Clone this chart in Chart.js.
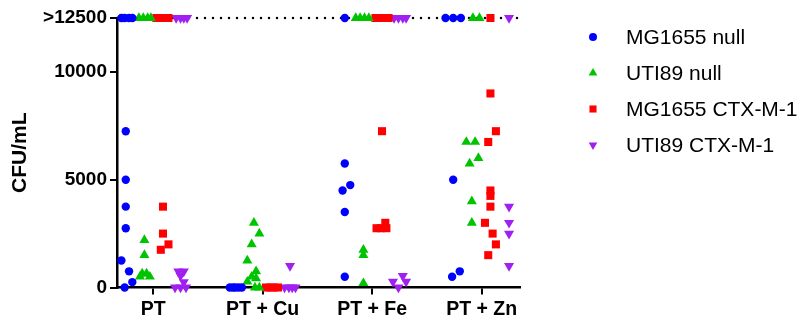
<!DOCTYPE html>
<html>
<head>
<meta charset="utf-8">
<script src="https://cdn.jsdelivr.net/npm/chart.js@4/dist/chart.umd.min.js"></script>
<style>
  body { margin: 0; background: #fff; }
  #wrap { width: 801px; height: 320px; }
</style>
</head>
<body>
<div id="wrap"><canvas id="myChart" width="801" height="320"></canvas></div>
<script>
const groups = ['PT', 'PT + Cu', 'PT + Fe', 'PT + Zn'];
const yTicks = [0, 5000, 10000, 12500];
const yTickLabels = ['0', '5000', '10000', '>12500'];
const limit = 12500; // values above detection are shown as >12500

// values per group, and the horizontal scatter of each dot inside its group
const mgNull = [
    [12500, 12500, 12500, 12500, 7250, 5000, 3750, 2750, 1250, 750, 250, 0],
    [0, 0, 0, 0, 0],
    [12500, 5750, 4750, 4500, 3500, 500],
    [12500, 12500, 12500, 5000, 750, 500]
];
const mgNullX = [
    [-0.29, -0.26, -0.22, -0.19, -0.25, -0.25, -0.25, -0.25, -0.29, -0.22, -0.19, -0.26],
    [-0.30, -0.27, -0.25, -0.22, -0.19],
    [-0.25, -0.25, -0.20, -0.27, -0.25, -0.25],
    [-0.33, -0.26, -0.19, -0.26, -0.20, -0.27]
];
const utiNull = [
    [12500, 12500, 12500, 12500, 2200, 1500, 650, 500, 650, 500],
    [3000, 2500, 2000, 1250, 750, 500, 430, 270, 0, 0],
    [12500, 12500, 12500, 12500, 1750, 1500, 200],
    [12500, 12500, 6750, 6750, 6000, 5750, 4000, 3000]
];
const utiNullX = [
    [-0.13, -0.09, -0.05, -0.02, -0.08, -0.08, -0.10, -0.12, -0.06, -0.03],
    [-0.08, -0.03, -0.10, -0.14, -0.06, -0.10, -0.06, -0.14, -0.07, -0.03],
    [-0.15, -0.11, -0.07, -0.03, -0.08, -0.08, -0.08],
    [-0.08, -0.02, -0.14, -0.06, -0.03, -0.11, -0.09, -0.09]
];
const mgCtx = [
    [12500, 12500, 12500, 12500, 3750, 2500, 2000, 1750],
    [0, 0, 0, 0],
    [12500, 12500, 12500, 12500, 7250, 3000, 2750, 2750, 2750],
    [12500, 9000, 7250, 6750, 4500, 4250, 3750, 3000, 2500, 2000, 1500]
];
const mgCtxX = [
    [0.03, 0.06, 0.10, 0.14, 0.09, 0.09, 0.14, 0.07],
    [0.03, 0.07, 0.10, 0.14],
    [0.03, 0.07, 0.11, 0.15, 0.09, 0.12, 0.04, 0.08, 0.13],
    [0.08, 0.08, 0.13, 0.06, 0.08, 0.08, 0.08, 0.03, 0.10, 0.13, 0.06]
];
const utiCtx = [
    [12500, 12500, 12500, 12500, 750, 750, 550, 250, 0, 0, 0],
    [1000, 0, 0, 0, 0],
    [12500, 12500, 12500, 12500, 270, 0, 535, 270],
    [12500, 3750, 3000, 2500, 1000]
];
const utiCtxX = [
    [0.21, 0.25, 0.28, 0.31, 0.23, 0.28, 0.25, 0.28, 0.20, 0.25, 0.30],
    [0.25, 0.20, 0.24, 0.27, 0.30],
    [0.20, 0.24, 0.28, 0.31, 0.19, 0.24, 0.28, 0.31],
    [0.25, 0.25, 0.25, 0.25, 0.25]
];

const font = 'Liberation Sans, Arial, Helvetica, sans-serif';
const xMin = -0.33, xMax = 3.35;

function points(vals, jitter) {
    return vals.flatMap((g, i) => g.map((v, j) => ({ x: i + jitter[i][j], y: v })));
}

function series(label, vals, jitter, color, style, radius, rotation) {
    return {
        type: 'scatter',
        label: label,
        data: points(vals, jitter),
        backgroundColor: color,
        borderColor: color,
        borderWidth: 0,
        pointStyle: style,
        pointRadius: radius,
        pointHoverRadius: radius,
        pointRotation: rotation,
        clip: false,
        order: 1
    };
}

// simple legend to the right of the plot
const sideLegend = {
    id: 'sideLegend',
    afterDraw(chart) {
        const ctx = chart.ctx;
        const items = chart.data.datasets.filter(d => d.type === 'scatter');
        ctx.save();
        ctx.font = '21px ' + font;
        ctx.textBaseline = 'middle';
        items.forEach((d, i) => {
            const y = 37 + i * 36;
            ctx.fillStyle = d.backgroundColor;
            Chart.helpers.drawPoint(ctx, {
                pointStyle: d.pointStyle,
                radius: d.pointStyle === 'circle' ? 4 : 5,
                rotation: d.pointRotation,
                borderWidth: 0
            }, 593, y);
            ctx.fillStyle = '#000';
            ctx.fillText(d.label, 626, y + 1);
        });
        ctx.restore();
    }
};

new Chart(document.getElementById('myChart'), {
    data: {
        datasets: [
            series('MG1655 null', mgNull, mgNullX, '#0000ff', 'circle', 4.2, 0),
            series('UTI89 null', utiNull, utiNullX, '#00c400', 'triangle', 5.8, 0),
            series('MG1655 CTX-M-1', mgCtx, mgCtxX, '#ff0000', 'rect', 5.7, 0),
            series('UTI89 CTX-M-1', utiCtx, utiCtxX, '#a020f0', 'triangle', 5.8, 180),
            {
                type: 'line',
                label: 'limit',
                data: [{ x: xMin, y: limit }, { x: xMax, y: limit }],
                borderColor: '#000',
                borderWidth: 2.5,
                borderDash: [0, 8],
                borderCapStyle: 'round',
                pointRadius: 0,
                clip: false,
                order: 10
            }
        ]
    },
    options: {
        responsive: false,
        animation: false,
        events: [],
        layout: { padding: { top: 18, right: 281, left: 0, bottom: 0 } },
        plugins: {
            legend: { display: false },
            tooltip: { enabled: false }
        },
        scales: {
            x: {
                type: 'linear',
                min: xMin,
                max: xMax,
                afterBuildTicks: (scale) => { scale.ticks = groups.map((g, i) => ({ value: i })); },
                afterFit: (scale) => { scale.height = 32.5; },
                ticks: {
                    autoSkip: false,
                    maxRotation: 0,
                    padding: 3,
                    color: '#000',
                    font: { family: font, size: 19.5, weight: 'bold' },
                    callback: (v) => groups[v]
                },
                grid: { drawOnChartArea: false, tickLength: 7, color: '#000', lineWidth: 2 },
                border: { color: '#000', width: 2.5 }
            },
            y: {
                min: 0,
                max: limit,
                afterBuildTicks: (scale) => { scale.ticks = yTicks.map(v => ({ value: v })); },
                afterFit: (scale) => { scale.width = 117; },
                ticks: {
                    padding: 3,
                    color: '#000',
                    font: { family: font, size: 19, weight: 'bold' },
                    callback: (v) => yTickLabels[yTicks.indexOf(v)]
                },
                grid: { drawOnChartArea: false, tickLength: 7, color: '#000', lineWidth: 2 },
                border: { color: '#000', width: 2.5 },
                title: {
                    display: true,
                    text: 'CFU/mL',
                    color: '#000',
                    padding: { top: 8, bottom: 0 },
                    font: { family: font, size: 21, weight: 'bold' }
                }
            }
        }
    },
    plugins: [sideLegend]
});
</script>
</body>
</html>
